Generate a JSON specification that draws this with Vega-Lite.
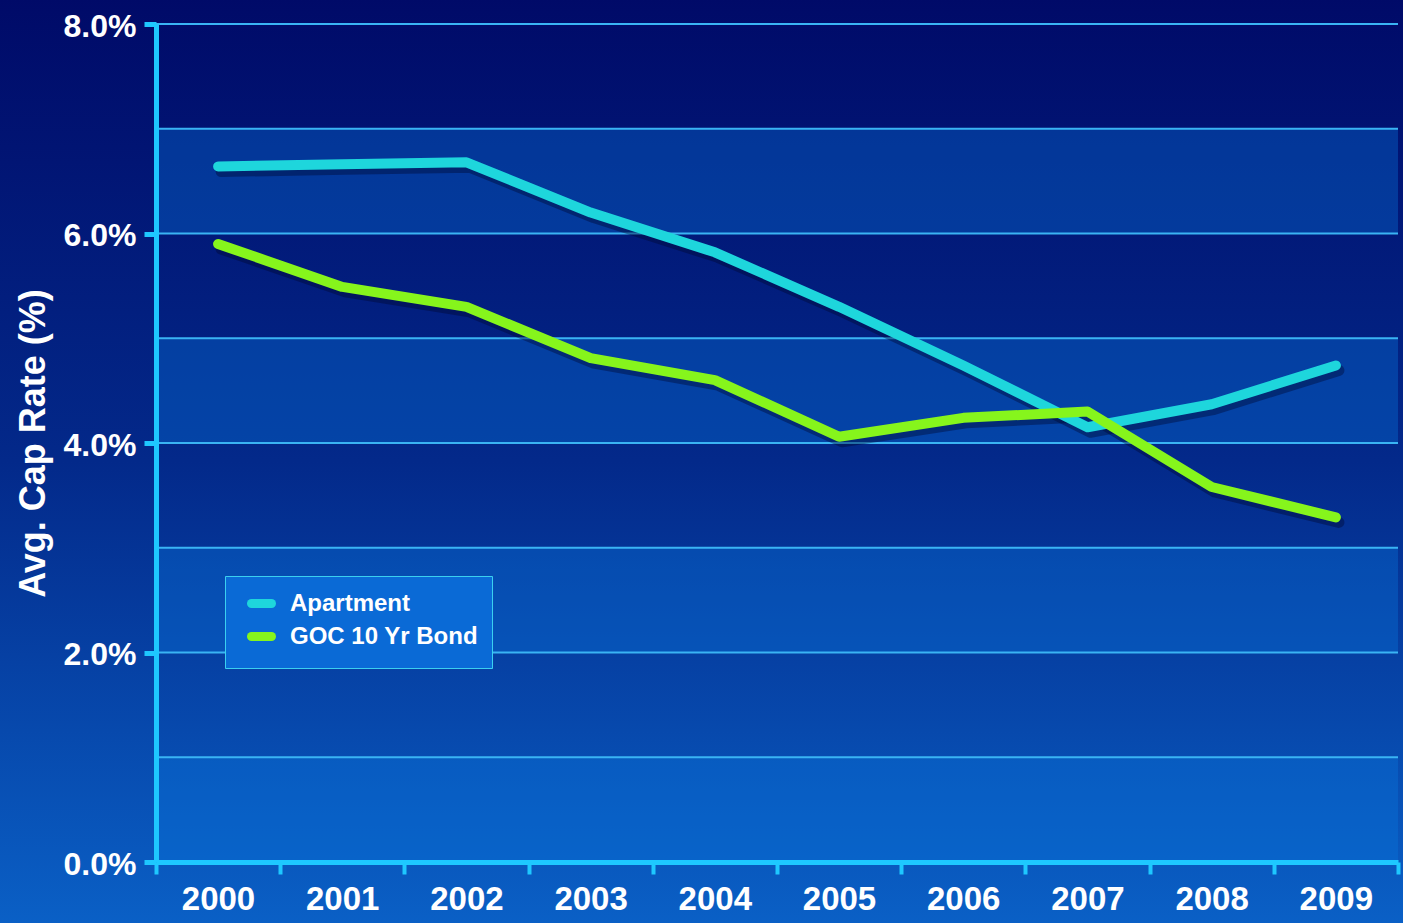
{
  "$schema": "https://vega.github.io/schema/vega-lite/v6.json",
  "width": 1242,
  "height": 838,
  "autosize": {"type": "none"},
  "padding": {"left": 156, "top": 24, "right": 5, "bottom": 61},
  "background": "#03308e",
  "config": {"view": {"stroke": null}, "font": "Liberation Sans"},
  "datasets": {
    "rates": [
      {"year": 2000, "series": "Apartment", "rate": 6.64},
      {"year": 2001, "series": "Apartment", "rate": 6.66},
      {"year": 2002, "series": "Apartment", "rate": 6.68},
      {"year": 2003, "series": "Apartment", "rate": 6.20},
      {"year": 2004, "series": "Apartment", "rate": 5.82},
      {"year": 2005, "series": "Apartment", "rate": 5.30},
      {"year": 2006, "series": "Apartment", "rate": 4.74},
      {"year": 2007, "series": "Apartment", "rate": 4.15},
      {"year": 2008, "series": "Apartment", "rate": 4.37},
      {"year": 2009, "series": "Apartment", "rate": 4.74},
      {"year": 2000, "series": "GOC 10 Yr Bond", "rate": 5.90},
      {"year": 2001, "series": "GOC 10 Yr Bond", "rate": 5.49},
      {"year": 2002, "series": "GOC 10 Yr Bond", "rate": 5.30},
      {"year": 2003, "series": "GOC 10 Yr Bond", "rate": 4.81},
      {"year": 2004, "series": "GOC 10 Yr Bond", "rate": 4.60},
      {"year": 2005, "series": "GOC 10 Yr Bond", "rate": 4.06},
      {"year": 2006, "series": "GOC 10 Yr Bond", "rate": 4.24},
      {"year": 2007, "series": "GOC 10 Yr Bond", "rate": 4.30},
      {"year": 2008, "series": "GOC 10 Yr Bond", "rate": 3.58},
      {"year": 2009, "series": "GOC 10 Yr Bond", "rate": 3.29}
    ],
    "bands": [
      {"lo": 0, "hi": 1},
      {"lo": 2, "hi": 3},
      {"lo": 4, "hi": 5},
      {"lo": 6, "hi": 7}
    ],
    "grid": [
      {"level": 1}, {"level": 2}, {"level": 3}, {"level": 4},
      {"level": 5}, {"level": 6}, {"level": 7}, {"level": 8}
    ]
  },
  "encoding": {
    "x": {
      "type": "quantitative",
      "scale": {"domain": [1999.5, 2009.5], "nice": false, "zero": false},
      "axis": {
        "values": [1999.5, 2000.5, 2001.5, 2002.5, 2003.5, 2004.5, 2005.5, 2006.5, 2007.5, 2008.5, 2009.5],
        "labelExpr": "datum.value < 2009 ? format(datum.value + 0.5, 'd') : ''",
        "labelOffset": 62,
        "domain": true,
        "domainColor": "#1ec8ff",
        "domainWidth": 5,
        "grid": false,
        "ticks": true,
        "tickSize": 12,
        "tickWidth": 4,
        "tickColor": "#1ec8ff",
        "labelColor": "white",
        "labelFont": "Liberation Sans",
        "labelFontWeight": "bold",
        "labelFontSize": 33,
        "labelPadding": 9,
        "labelFlush": false,
        "labelOverlap": false,
        "labelBound": false,
        "title": null,
        "zindex": 1
      }
    },
    "y": {
      "type": "quantitative",
      "scale": {"domain": [0, 8], "nice": false, "zero": false},
      "axis": {
        "values": [0, 2, 4, 6, 8],
        "labelExpr": "format(datum.value, '.1f') + '%'",
        "domain": true,
        "domainColor": "#1ec8ff",
        "domainWidth": 5,
        "grid": false,
        "tickSize": 12,
        "tickWidth": 5,
        "tickColor": "#1ec8ff",
        "labelColor": "white",
        "labelFont": "Liberation Sans",
        "labelFontWeight": "bold",
        "labelFontSize": 32,
        "labelPadding": 8,
        "labelOffset": 2,
        "labelFlush": false,
        "labelOverlap": false,
        "labelBound": false,
        "title": "Avg. Cap Rate (%)",
        "titleColor": "white",
        "titleFont": "Liberation Sans",
        "titleFontWeight": "bold",
        "titleFontSize": 36,
        "titlePadding": 11,
        "zindex": 1
      }
    }
  },
  "layer": [
    {
      "data": {"values": [{}]},
      "mark": {
        "type": "rect",
        "color": {
          "gradient": "linear",
          "x1": 0, "y1": 0, "x2": 0, "y2": 1,
          "stops": [
            {"offset": 0, "color": "#000a68"},
            {"offset": 0.5, "color": "#03298a"},
            {"offset": 1, "color": "#0a60c6"}
          ]
        }
      },
      "encoding": {
        "x": {"datum": 1998.2},
        "x2": {"datum": 2009.6},
        "y": {"datum": -0.6},
        "y2": {"datum": 8.25}
      }
    },
    {
      "data": {"name": "bands"},
      "mark": {"type": "rect", "color": "#0a78e0", "opacity": 0.35},
      "encoding": {
        "x": {"datum": 1999.5},
        "x2": {"datum": 2009.5},
        "y": {"field": "lo"},
        "y2": {"field": "hi"}
      }
    },
    {
      "data": {"name": "grid"},
      "mark": {"type": "rule", "color": "#3ab4f4", "strokeWidth": 2},
      "encoding": {
        "x": {"datum": 1999.5},
        "x2": {"datum": 2009.5},
        "y": {"field": "level"}
      }
    },
    {
      "data": {"name": "rates"},
      "mark": {"type": "line", "color": "#000830", "opacity": 0.4, "strokeWidth": 11, "strokeCap": "round", "strokeJoin": "round", "xOffset": 3, "yOffset": 5},
      "encoding": {
        "x": {"field": "year"},
        "y": {"field": "rate"},
        "detail": {"field": "series"}
      }
    },
    {
      "data": {"name": "rates"},
      "mark": {"type": "line", "strokeWidth": 10, "strokeCap": "round", "strokeJoin": "round"},
      "encoding": {
        "x": {"field": "year"},
        "y": {"field": "rate"},
        "color": {
          "field": "series", "type": "nominal",
          "scale": {"domain": ["Apartment", "GOC 10 Yr Bond"], "range": ["#1ed6dc", "#86f51c"]},
          "legend": {
            "title": null,
            "orient": "none",
            "legendX": 69,
            "legendY": 552,
            "fillColor": "#0a6ad6",
            "strokeColor": "#3ad0f0",
            "padding": 13,
            "symbolType": "stroke",
            "symbolSize": 400,
            "symbolStrokeWidth": 9,
            "symbolOffset": 9,
            "labelOffset": 14,
            "labelLimit": 400,
            "labelColor": "white",
            "labelFont": "Liberation Sans",
            "labelFontWeight": "bold",
            "labelFontSize": 24,
            "rowPadding": -7,
            "zindex": 1,
            "encode": {"symbols": {"update": {"strokeCap": {"value": "round"}}}}
          }
        }
      }
    }
  ]
}
